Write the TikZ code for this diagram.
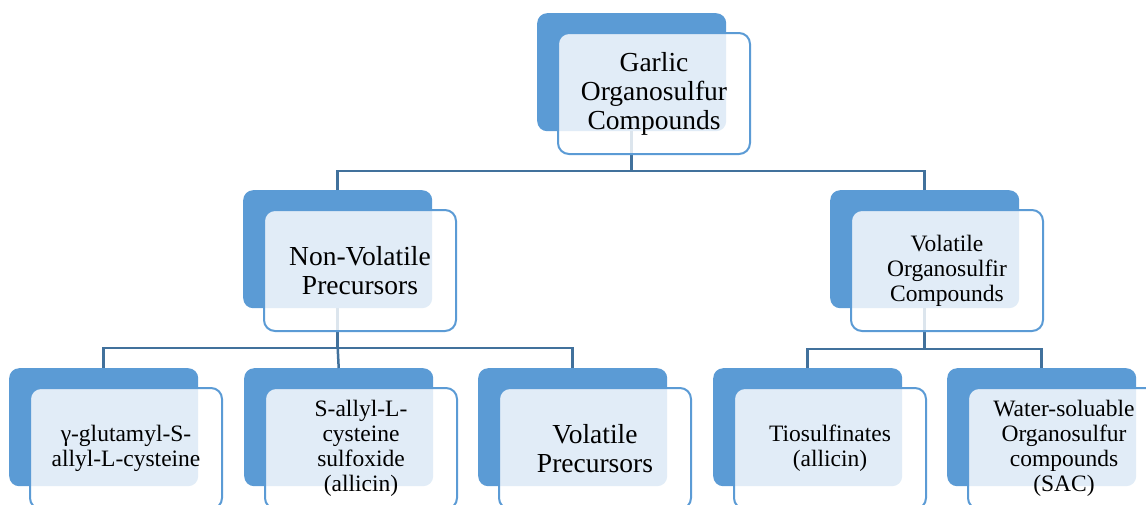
\documentclass[tikz,border=0pt]{standalone}
\usepackage{fontspec}
\setmainfont{Liberation Serif}
\usetikzlibrary{calc}
\definecolor{tierblue}{HTML}{5B9BD5}
\definecolor{linkblue}{HTML}{41719C}
\tikzset{
  backbox/.style={fill=tierblue, rounded corners=10pt, minimum width=189pt,
    minimum height=118pt, inner sep=0pt, anchor=north west},
  frontbox/.style={draw=tierblue, line width=2pt, fill=white, fill opacity=0.82,
    text opacity=1, rounded corners=11pt, minimum width=192pt,
    minimum height=121pt, inner sep=0pt, anchor=north west, align=center},
  bigtext/.style={font=\fontsize{27.5}{29}\selectfont},
  smalltext/.style={font=\fontsize{23.5}{25}\selectfont},
  link/.style={draw=linkblue, line width=2.5pt},
}
\begin{document}
\begin{tikzpicture}[x=1pt, y=-1pt]
  \useasboundingbox (0,0) rectangle (1146,504);
  \clip (0,0) rectangle (1146,504);

  % shadow tiles behind each box
  \node[backbox] (garlicB)  at (537,13)  {};
  \node[backbox] (nonvolB)  at (243,190) {};
  \node[backbox] (volB)     at (830,190) {};
  \node[backbox] (gluB)     at (9,368)   {};
  \node[backbox] (sacsB)    at (244,368) {};
  \node[backbox] (vprecB)   at (478,368) {};
  \node[backbox] (tioB)     at (713,368) {};
  \node[backbox] (waterB)   at (947,368) {};

  % connectors
  \coordinate (busTop) at (0,171);
  \coordinate (busL)   at (0,348);
  \coordinate (busR)   at (0,349);
  \draw[link] (garlicB.south) -- (garlicB.south |- busTop) -| (nonvolB.north);
  \draw[link] (garlicB.south |- busTop) -| (volB.north);
  \draw[link] (nonvolB.south) -- (nonvolB.south |- busL) -| (gluB.north);
  \draw[link] (nonvolB.south |- busL) -- (sacsB.north);
  \draw[link] (nonvolB.south |- busL) -| (vprecB.north);
  \draw[link] (volB.south) -- (volB.south |- busR) -| (tioB.north);
  \draw[link] (volB.south |- busR) -| (waterB.north);

  % text boxes
  \node[frontbox, bigtext] (garlic) at ($(garlicB.north west)+(20,19)$)
    {Garlic\\Organosulfur\\Compounds};
  \node[frontbox, bigtext] (nonvol) at ($(nonvolB.north west)+(20,19)$)
    {Non-Volatile\\Precursors};
  \node[frontbox, smalltext] (vol) at ($(volB.north west)+(20,19)$)
    {Volatile\\Organosulfir\\Compounds};
  \node[frontbox, smalltext] (glu) at ($(gluB.north west)+(20,19)$)
    {γ-glutamyl-S-\\allyl-L-cysteine};
  \node[frontbox, smalltext] (sacs) at ($(sacsB.north west)+(20,19)$)
    {S-allyl-L-\\cysteine\\sulfoxide\\(allicin)};
  \node[frontbox, bigtext] (vprec) at ($(vprecB.north west)+(20,19)$)
    {Volatile\\Precursors};
  \node[frontbox, smalltext] (tio) at ($(tioB.north west)+(20,19)$)
    {Tiosulfinates\\(allicin)};
  \node[frontbox, smalltext] (water) at ($(waterB.north west)+(20,19)$)
    {Water-soluable\\Organosulfur\\compounds\\(SAC)};
\end{tikzpicture}
\end{document}
